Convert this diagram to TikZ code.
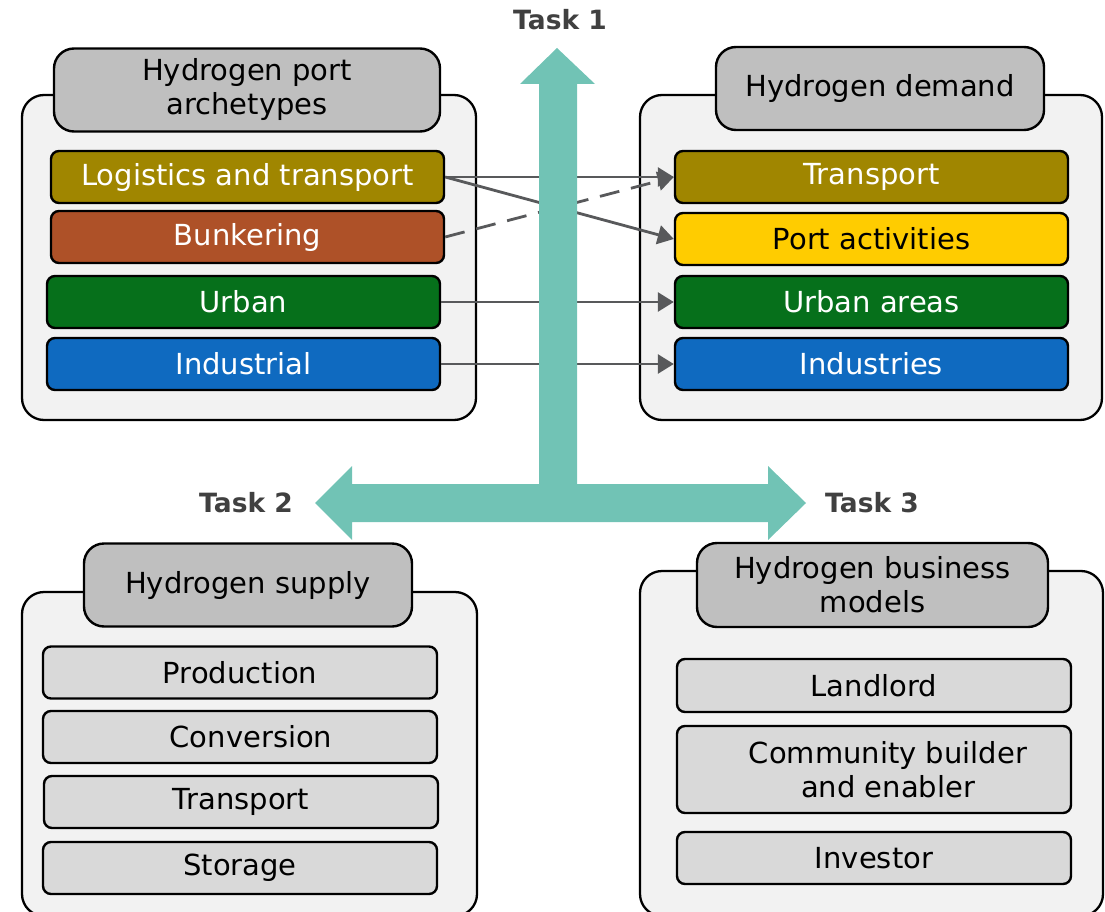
\documentclass[tikz,border=0pt]{standalone}
\usepackage{fontspec}
\setmainfont{DejaVu Sans}
\usetikzlibrary{arrows.meta}

\definecolor{panelgray}{HTML}{F2F2F2}
\definecolor{headgray}{HTML}{BFBFBF}
\definecolor{itemgray}{HTML}{D9D9D9}
\definecolor{hyolive}{HTML}{A08600}
\definecolor{hyrust}{HTML}{AE5128}
\definecolor{hygreen}{HTML}{06701B}
\definecolor{hyblue}{HTML}{0F6AC0}
\definecolor{hyyellow}{HTML}{FFCC00}
\definecolor{taskteal}{HTML}{71C3B5}
\definecolor{linkgray}{HTML}{58595B}
\definecolor{taskgray}{HTML}{404040}

\begin{document}
\begin{tikzpicture}[x=1pt,y=-1pt,
    panel/.style={draw,line width=2.3pt,fill=panelgray,rounded corners=22pt},
    head/.style={draw,line width=2.4pt,fill=headgray,rounded corners=20pt,
      minimum height=83pt,inner sep=0pt,align=center,
      font=\fontsize{29}{34}\selectfont},
    item/.style={draw,line width=2.4pt,rounded corners=8pt,
      minimum width=393pt,minimum height=52pt,inner sep=0pt,align=center,
      font=\fontsize{29}{34}\selectfont},
    grayitem/.style={item,fill=itemgray},
    link/.style={draw=linkgray,line width=2.8pt,
      -{Triangle[length=16pt,width=19pt]}},
    task/.style={text=taskgray,font=\fontsize{26.5}{30}\selectfont\bfseries}]
  \useasboundingbox (0,0) rectangle (1105,912);

  % Task 1: archetypes and demand
  \node[panel,minimum width=454pt,minimum height=325pt] (archpanel) at (249,257.5) {};
  \node[head,minimum width=386pt] (archhead) at (247,90) {Hydrogen port\\archetypes};
  \node[item,fill=hyolive,text=white] (logi) at (247.5,177) {Logistics and transport};
  \node[item,fill=hyrust,text=white] (bunk) at (247.5,237) {Bunkering};
  \node[item,fill=hygreen,text=white] (urban) at (243.5,302) {Urban};
  \node[item,fill=hyblue,text=white] (indus) at (243.5,364) {Industrial};

  \node[panel,minimum width=462pt,minimum height=325pt] (dempanel) at (871,257.5) {};
  \node[head,minimum width=328pt] (demhead) at (880,88.5) {Hydrogen demand};
  \node[item,fill=hyolive,text=white] (dtrans) at (871.5,177) {Transport};
  \node[item,fill=hyyellow,text=black] (dport) at (871.5,239) {Port activities};
  \node[item,fill=hygreen,text=white] (durban) at (871.5,302) {Urban areas};
  \node[item,fill=hyblue,text=white] (dindus) at (871.5,364) {Industries};

  \draw[link] (logi.east) -- (dtrans.west);
  \draw[link] (logi.east) -- (dport.west);
  \draw[link,dash pattern=on 20pt off 12pt] (bunk.east) -- (dtrans.west);
  \draw[link] (urban.east) -- (durban.west);
  \draw[link] (indus.east) -- (dindus.west);

  % Task 2: supply
  \node[panel,minimum width=455pt,minimum height=324pt] (suppanel) at (249.5,754) {};
  \node[head,minimum width=328pt] (suphead) at (248,585) {Hydrogen supply};
  \node[grayitem,minimum width=394pt] (prod) at (240,672.5) {Production};
  \node[grayitem,minimum width=394pt] (conv) at (240,737) {\hspace*{22pt}Conversion};
  \node[grayitem,minimum width=394pt] (strans) at (241,802) {Transport};
  \node[grayitem,minimum width=394pt] (stor) at (240,868) {Storage};

  % Task 3: business models
  \node[panel,minimum width=463pt,minimum height=345pt] (buspanel) at (871.5,743.5) {};
  \node[head,minimum width=351pt,minimum height=84pt] (bushead) at (872.5,585) {Hydrogen business\\models};
  \node[grayitem,minimum width=394pt,minimum height=53pt] (land) at (874,685.5) {Landlord};
  \node[grayitem,minimum width=394pt,minimum height=87pt] (comm) at (874,769.5)
    {\hspace*{28pt}Community builder\\\hspace*{28pt}and enabler};
  \node[grayitem,minimum width=394pt] (inv) at (874,858) {Investor};

  % the task arrows
  \fill[taskteal] (557,48) -- (595,84) -- (577,84) -- (577,484) -- (768,484)
    -- (768,466) -- (806,503) -- (768,540) -- (768,522) -- (352,522)
    -- (352,540) -- (315,503) -- (352,466) -- (352,484) -- (539,484)
    -- (539,84) -- (520,84) -- cycle;

  \node[task] (task1) at (560,20) {Task 1};
  \node[task] (task2) at (246,503) {Task 2};
  \node[task] (task3) at (872,503) {Task 3};
\end{tikzpicture}
\end{document}
